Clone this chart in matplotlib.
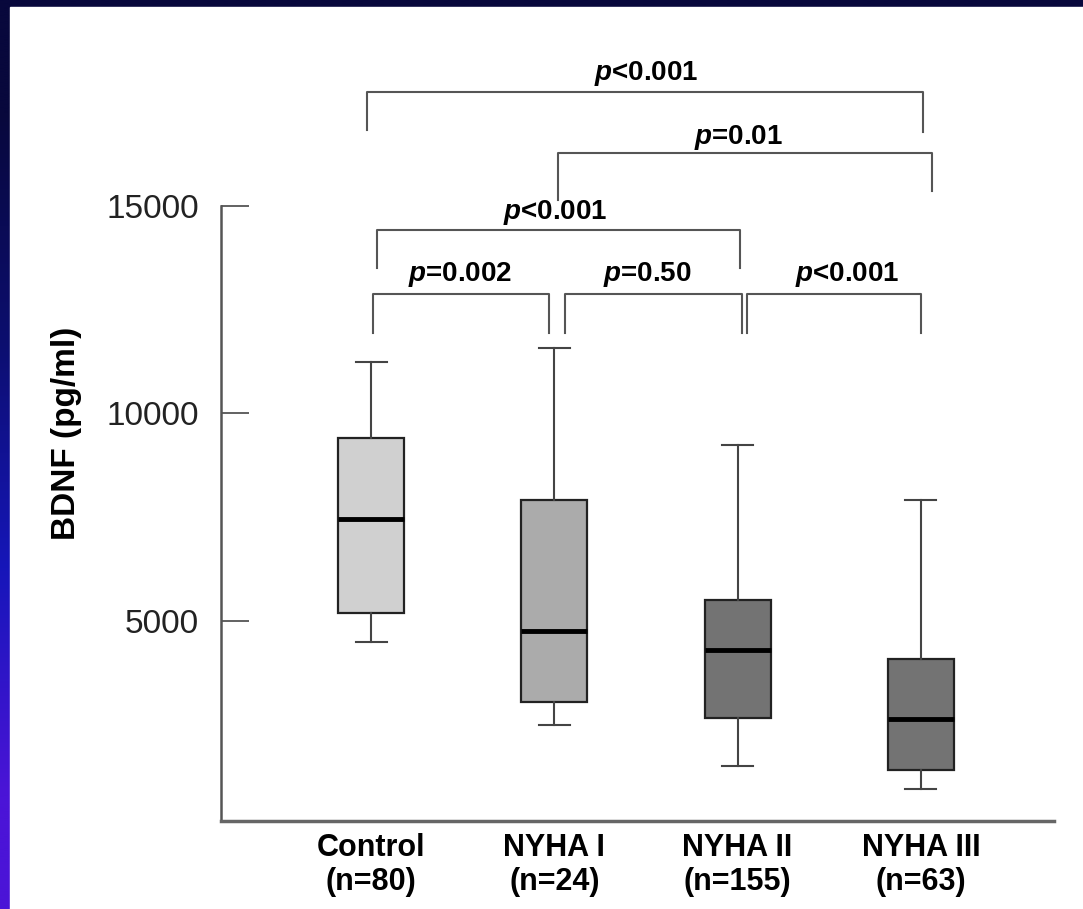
import numpy as np
import matplotlib
matplotlib.use("Agg")
from matplotlib import pyplot as plt

plt.rcParams['font.family'] = ['Liberation Sans', 'DejaVu Sans']
plt.rcParams['mathtext.fontset'] = 'custom'
plt.rcParams['mathtext.it'] = 'Liberation Sans:italic:bold'

# box plot summary values (pg/ml)
groups = ['Control', 'NYHA I', 'NYHA II', 'NYHA III']
n_counts = [80, 24, 155, 63]
whis_low = [4500, 2500, 1510, 960]
q1 = [5190, 3050, 2670, 1410]
medians = [7460, 4760, 4300, 2640]
q3 = [9410, 7910, 5510, 4090]
whis_high = [11240, 11570, 9240, 7910]
box_colors = ['#d0d0d0', '#ababab', '#737373', '#737373']

# pairwise comparisons
p_labels = ['<0.001', '=0.01', '<0.001', '=0.002', '=0.50', '<0.001']
# bracket geometry: x_left, x_right, y_line, y_leg_left, y_leg_right, text_x, text_y
brackets = [
    (0.975, 4.012, 17733, 16818, 16770, 2.50, 18190),
    (2.02, 4.06, 16264, 15133, 15350, 3.006, 16650),
    (1.03, 3.013, 14412, 13497, 13497, 2.003, 14845),
    (1.008, 1.973, 12872, 11933, 11933, 1.487, 13329),
    (2.058, 3.024, 12872, 11933, 11933, 2.51, 13329),
    (3.053, 4.0, 12872, 11933, 11933, 3.6, 13329),
]

W, H = 1083, 909
fig = plt.figure(figsize=(W / 100, H / 100), dpi=100)

# blue slide background with white panel
bg = fig.add_axes([0, 0, 1, 1])
grad = np.array([[8, 8, 60], [12, 14, 110], [22, 22, 185], [75, 20, 215]]) / 255
bg.imshow(grad.reshape(4, 1, 3), aspect='auto', extent=[0, 1, 0, 1],
          interpolation='bilinear')
bg.add_patch(plt.Rectangle((10 / W, 0), 1, 1 - 7 / H, color='white'))
bg.set_xlim(0, 1)
bg.set_ylim(0, 1)
bg.axis('off')

ax = fig.add_axes([221 / W, 1 - 821 / H, (1054 - 221) / W, (821 - 30) / H])
ax.patch.set_alpha(0)

stats = []
for i in range(len(groups)):
    stats.append({'whislo': whis_low[i], 'q1': q1[i], 'med': medians[i],
                  'q3': q3[i], 'whishi': whis_high[i], 'fliers': []})

positions = np.arange(1, len(groups) + 1)
bp = ax.bxp(stats, positions=positions, widths=0.36, capwidths=0.17,
            patch_artist=True, showfliers=False,
            boxprops=dict(edgecolor='#222222', linewidth=1.6),
            medianprops=dict(color='black', linewidth=3.5),
            whiskerprops=dict(color='#444444', linewidth=1.5),
            capprops=dict(color='#444444', linewidth=1.5))
for patch, c in zip(bp['boxes'], box_colors):
    patch.set_facecolor(c)

ax.set_xlim(0.18, 4.727)
ax.set_ylim(187, 19226)

for sp in ['top', 'right']:
    ax.spines[sp].set_visible(False)
ax.spines['left'].set_bounds(187, 15000)
ax.spines['left'].set_color('#555555')
ax.spines['left'].set_linewidth(1.8)
ax.spines['bottom'].set_color('#666666')
ax.spines['bottom'].set_linewidth(2.5)

ax.set_yticks([5000, 10000, 15000])
ax.set_yticklabels(['5000', '10000', '15000'])
ax.tick_params(axis='y', direction='in', length=20, width=1.3, color='#555555',
               labelsize=24, labelcolor='#222222', pad=16)

xlabels = ['%s\n(n=%d)' % (g, n) for g, n in zip(groups, n_counts)]
ax.set_xticks(positions)
ax.set_xticklabels(xlabels, fontsize=22, fontweight='bold', linespacing=1.15)
ax.tick_params(axis='x', length=0, pad=9, labelcolor='black')

fig.text(66 / W, 1 - 433 / H, 'BDNF (pg/ml)', rotation=90, ha='center',
         va='center', fontsize=24, fontweight='bold')

# significance brackets
for lab, (xl, xr, yl, ll, lr, tx, ty) in zip(p_labels, brackets):
    ax.plot([xl, xl, xr, xr], [ll, yl, yl, lr], color='#555555',
            linewidth=1.5, clip_on=False)
    ax.text(tx, ty, '$p$' + lab, ha='center', va='center', fontsize=20,
            fontweight='bold')

fig.savefig('out.png', dpi=100)
